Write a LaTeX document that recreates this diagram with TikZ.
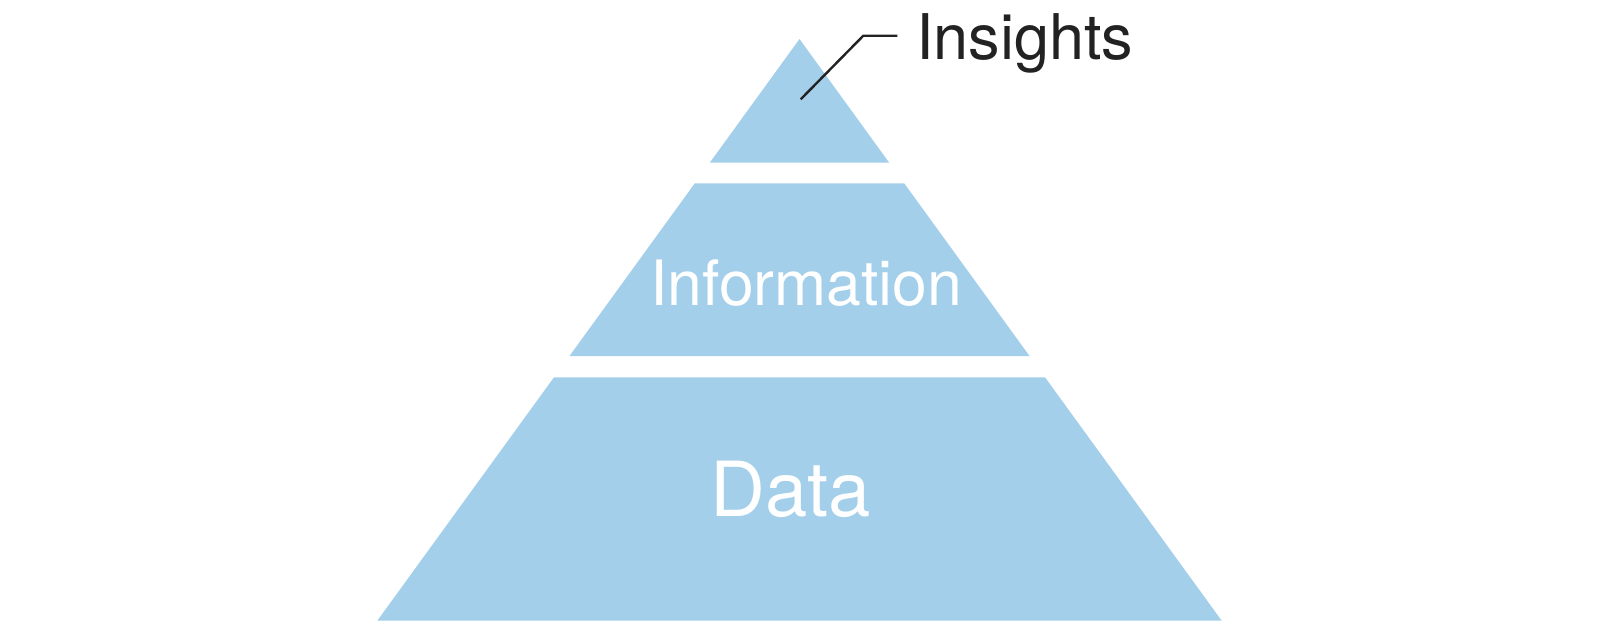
\documentclass[tikz,border=0pt]{standalone}
\usepackage{fontspec}
\setmainfont{TeX Gyre Heros}
\definecolor{tierblue}{RGB}{163,207,235}
\definecolor{inkdark}{RGB}{34,34,34}
\begin{document}
\begin{tikzpicture}[x=1pt,y=-1pt,
  tier/.style={fill=tierblue,draw=none},
  tierlabel/.style={text=white,inner sep=0pt,anchor=base west},
  leader/.style={draw=inkdark,line width=2.4pt}]
\useasboundingbox (0,0) rectangle (1600,635);
% tiers of one pyramid (apex 799.5,39; half-width 0.7255 per px)
\path[tier] (799.5,39) -- (889.2,162.7) -- (709.8,162.7) -- cycle;
\path[tier] (694.8,183.3) -- (904.2,183.3) -- (1029.5,356) -- (569.5,356) -- cycle;
\path[tier] (554.0,377.3) -- (1045.0,377.3) -- (1221.7,620.7) -- (377.3,620.7) -- cycle;
% labels
\node[tierlabel,font=\fontsize{62.5}{70}\selectfont] (info) at (650,305.7) {Information};
\node[tierlabel,font=\fontsize{76}{84}\selectfont] (data) at (710,516) {Data};
\node[inner sep=0pt,anchor=base west,text=inkdark,font=\fontsize{63}{70}\selectfont] (ins) at (916,59.3) {Insights};
% leader
\coordinate (lead) at (800.7,99.3);
\coordinate (bend) at (863.3,35.7);
\coordinate (lend) at (897.3,35.7);
\draw[leader] (lead) -- (bend) -- (lend);
\end{tikzpicture}
\end{document}
